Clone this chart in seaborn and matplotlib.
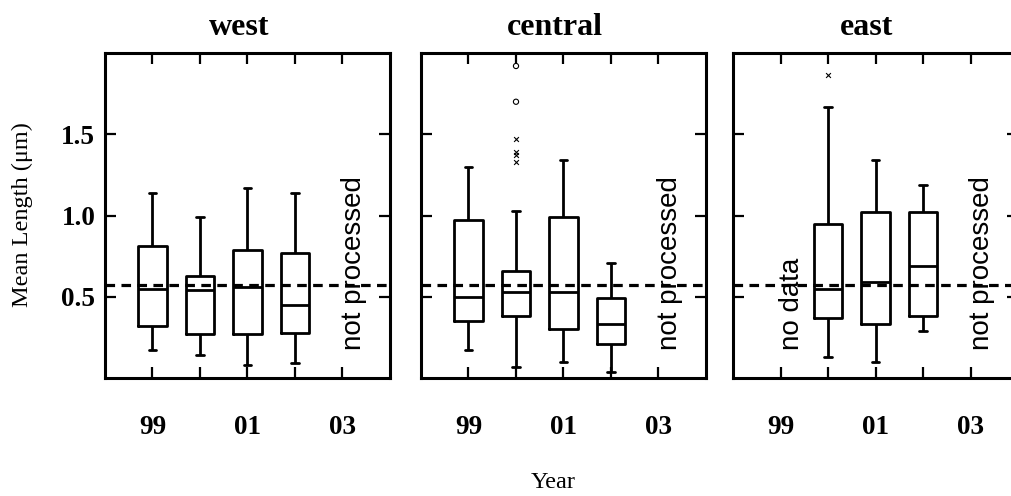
import matplotlib
matplotlib.use("Agg")
import pandas as pd
from matplotlib import pyplot as plt
import seaborn as sns

regions = ["west", "central", "east"]
years = [1999, 2000, 2001, 2002, 2003]
year_labels = ["99", "", "01", "", "03"]

# five-number summaries: low whisker, q1, median, q3, high whisker
west_years = [1999, 2000, 2001, 2002]
west_stats = [
    [0.17, 0.32, 0.55, 0.81, 1.14],
    [0.14, 0.27, 0.54, 0.63, 0.99],
    [0.08, 0.27, 0.56, 0.79, 1.17],
    [0.09, 0.28, 0.45, 0.77, 1.14],
]
central_years = [1999, 2000, 2001, 2002]
central_stats = [
    [0.17, 0.35, 0.50, 0.97, 1.30],
    [0.07, 0.38, 0.53, 0.66, 1.03],
    [0.10, 0.30, 0.53, 0.99, 1.34],
    [0.04, 0.21, 0.33, 0.49, 0.71],
]
east_years = [2000, 2001, 2002]
east_stats = [
    [0.13, 0.37, 0.55, 0.95, 1.67],
    [0.10, 0.33, 0.59, 1.02, 1.34],
    [0.29, 0.38, 0.69, 1.02, 1.19],
]

# outliers (o = extreme, x = mild)
central_out_years = [2000, 2000, 2000, 2000, 2000, 2000]
central_out_vals = [1.92, 1.70, 1.47, 1.39, 1.37, 1.33]
central_out_kind = ["o", "o", "x", "x", "x", "x"]
east_out_years = [2000]
east_out_vals = [1.865]
east_out_kind = ["x"]

reference_level = 0.572
not_processed_year = 2003
no_data_year = {"east": 1999}

rows = []
for reg, yrs, stats in [("west", west_years, west_stats),
                        ("central", central_years, central_stats),
                        ("east", east_years, east_stats)]:
    for y, st in zip(yrs, stats):
        for v in st:
            rows.append((reg, y, v))
df = pd.DataFrame(rows, columns=["region", "year", "value"])

out = pd.DataFrame({
    "region": ["central"] * len(central_out_vals) + ["east"] * len(east_out_vals),
    "year": central_out_years + east_out_years,
    "value": central_out_vals + east_out_vals,
    "kind": central_out_kind + east_out_kind,
})

sns.set_theme(style="white")
plt.rcParams["font.family"] = ["Liberation Serif", "DejaVu Serif"]
plt.rcParams["text.color"] = "black"
plt.rcParams["axes.labelcolor"] = "black"
plt.rcParams["xtick.color"] = "black"
plt.rcParams["ytick.color"] = "black"
plt.rcParams["axes.linewidth"] = 2.2
plt.rcParams["axes.edgecolor"] = "black"

W, H = 1012, 496
fig = plt.figure(figsize=(W / 100, H / 100), dpi=100)
lefts = [105, 421, 733]
ax_w, ax_h, ax_bottom = 285, 325, 118

for i, reg in enumerate(regions):
    ax = fig.add_axes([lefts[i] / W, ax_bottom / H, ax_w / W, ax_h / H])
    sub = df[df["region"] == reg]
    sns.boxplot(data=sub, x="year", y="value", native_scale=True,
                whis=(0, 100), width=0.6, fill=False, color="black",
                linewidth=2.0, capwidths=0.16, ax=ax)

    o = out[out["region"] == reg]
    circ = o[o["kind"] == "o"]
    crosses = o[o["kind"] == "x"]
    if len(circ):
        sns.scatterplot(x=circ["year"], y=circ["value"], marker="o", s=14,
                        facecolor="none", edgecolor="black", linewidth=0.8, ax=ax)
    if len(crosses):
        sns.scatterplot(x=crosses["year"], y=crosses["value"], marker="x", s=12,
                        color="black", linewidth=0.8, ax=ax)

    ax.axhline(reference_level, color="black", lw=2.3, ls=(0, (3, 2)), zorder=5)

    ax.text(not_processed_year + 0.25, 0.17, "not processed", rotation=90,
            ha="center", va="bottom", fontsize=20, family="Liberation Sans",
            color="black")
    if reg in no_data_year:
        ax.text(no_data_year[reg] + 0.25, 0.17, "no data", rotation=90,
                ha="center", va="bottom", fontsize=20, family="Liberation Sans",
                color="black")

    ax.set_xlim(1998, 2004)
    ax.set_ylim(0, 2.0)
    ax.set_xticks(years)
    ax.set_xticklabels(year_labels, fontsize=19.5, fontweight="bold")
    ax.set_yticks([0.5, 1.0, 1.5])
    ax.set_yticklabels(["0.5", "1.0", "1.5"], fontsize=19.5, fontweight="bold")
    ax.tick_params(axis="both", which="both", direction="in", top=True, right=True,
                   bottom=True, left=True, length=8, width=1.6, color="black")
    ax.tick_params(axis="x", pad=27)
    ax.tick_params(axis="y", pad=7, labelleft=(i == 0))
    ax.set_xlabel("")
    ax.set_ylabel("")
    for sp in ax.spines.values():
        sp.set_visible(True)
        sp.set_linewidth(2.2)
        sp.set_color("black")
    ax.set_title(reg, fontsize=23, fontweight="bold", pad=13, x=0.47, color="black")

fig.text(22 / W, 1 - 215 / H, "Mean Length (\u03bcm)", rotation=90,
         ha="center", va="center", fontsize=17.5)
fig.text(553 / W, 1 - 482 / H, "Year", ha="center", va="center", fontsize=17.5)

fig.savefig("out.png", dpi=100)
